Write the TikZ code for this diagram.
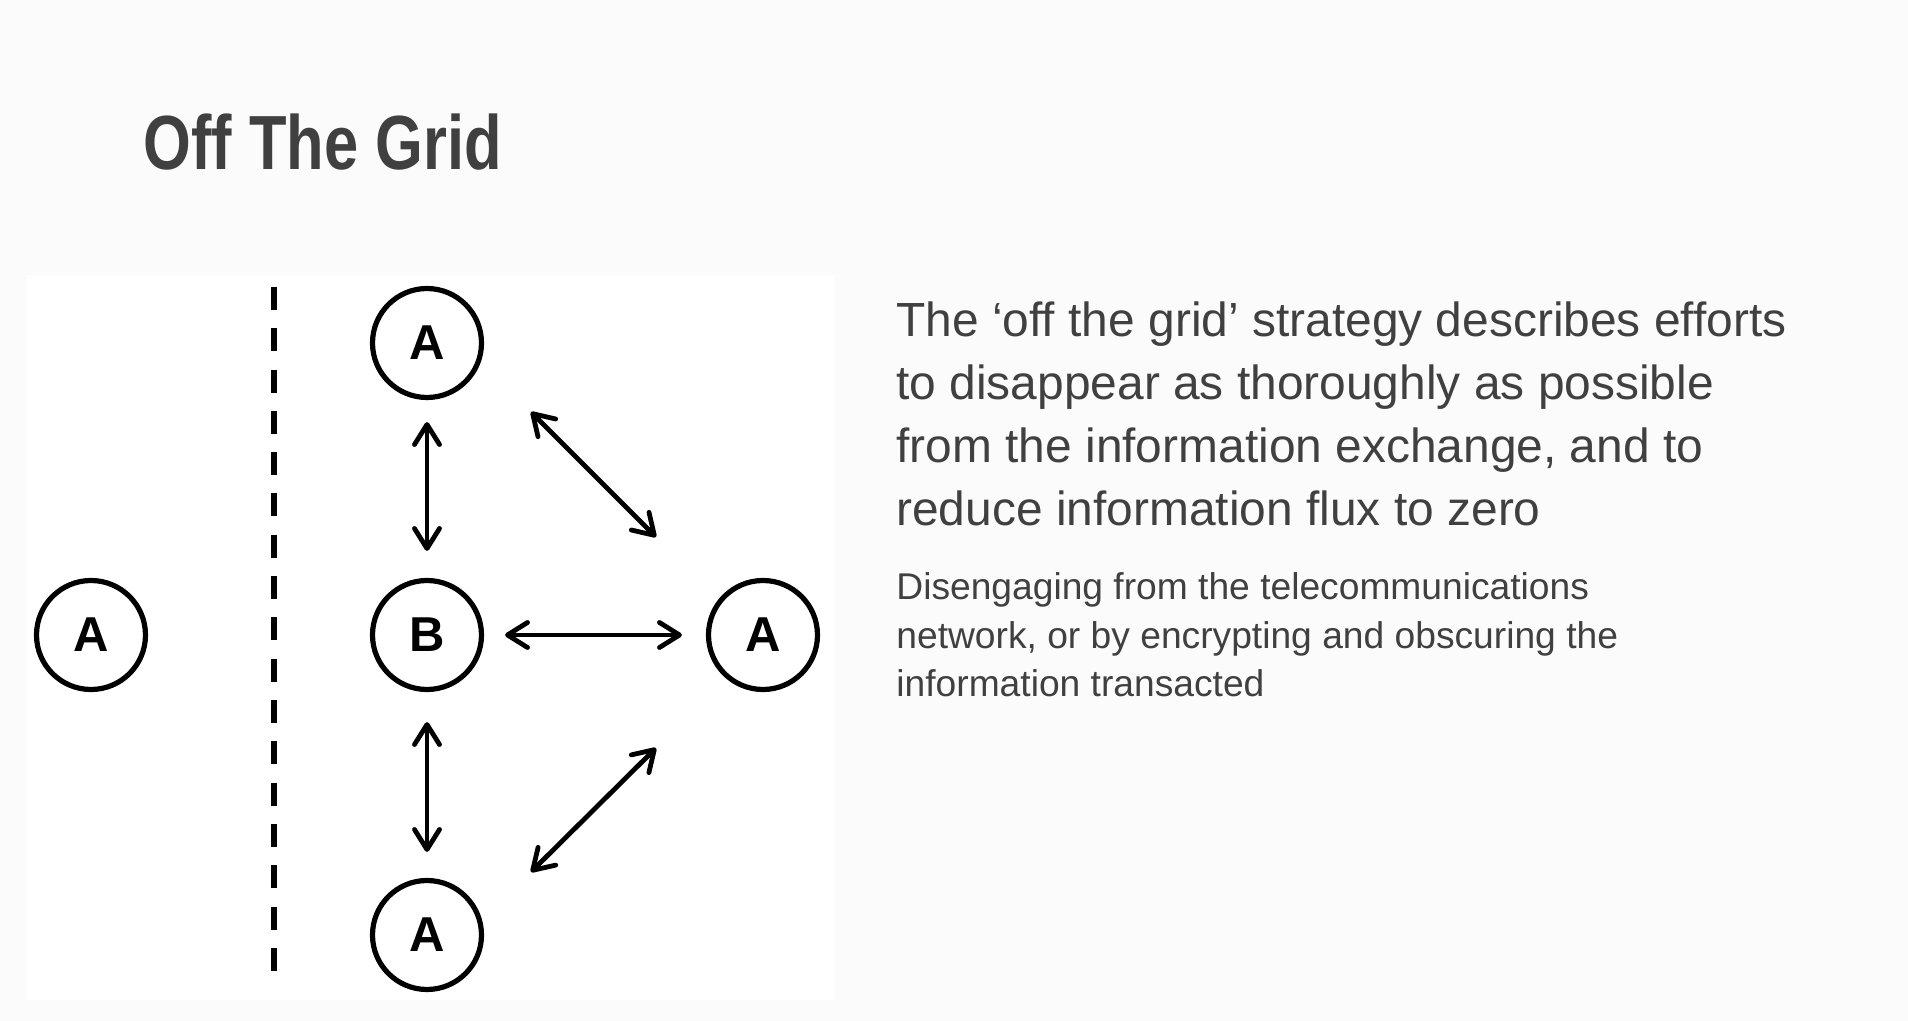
\documentclass[tikz,border=0pt]{standalone}
\usepackage{fontspec}
\setmainfont{Liberation Sans}
\newfontfamily\titlefont{Liberation Sans}[FakeStretch=0.80]
\usetikzlibrary{arrows.meta}
\definecolor{bgc}{RGB}{251,251,251}
\definecolor{txt}{RGB}{64,64,64}
\begin{document}
\begin{tikzpicture}[x=0.5pt,y=-0.5pt,
  nodecirc/.style={circle, draw=black, line width=2.6pt, minimum size=54.5pt, inner sep=0pt,
    font=\bfseries\fontsize{24.5pt}{24.5pt}\selectfont},
  conn/.style={line width=2.4pt,
    {Straight Barb[length=10pt,width=12.5pt,round]}-{Straight Barb[length=10pt,width=12.5pt,round]}},
  dashline/.style={line width=3pt, dash pattern=on 11.5pt off 9.15pt},
  bigtxt/.style={anchor=base west, inner sep=0pt, text=txt, font=\fontsize{23.95pt}{28pt}\selectfont},
  smalltxt/.style={anchor=base west, inner sep=0pt, text=txt, font=\fontsize{18.6pt}{22pt}\selectfont}
]
\fill[bgc] (0,0) rectangle (1908,1021);
\useasboundingbox (0,0) rectangle (1908,1021);
\fill[white] (27,275) rectangle (835,1000);

% title
\node[anchor=base west, inner sep=0pt, text=txt,
  font=\titlefont\bfseries\fontsize{38.4pt}{40pt}\selectfont] (title) at (143,170) {Off The Grid};

% paragraph 1
\node[bigtxt] (p1) at (896,337) {The ‘off the grid’ strategy describes efforts};
\node[bigtxt] (p2) at (896,400) {to disappear as thoroughly as possible};
\node[bigtxt] (p3) at (896,463) {from the information exchange, and to};
\node[bigtxt] (p4) at (896,526) {reduce information flux to zero};

% paragraph 2
\node[smalltxt] (q1) at (896,600) {Disengaging from the telecommunications};
\node[smalltxt] (q2) at (896,649) {network, or by encrypting and obscuring the};
\node[smalltxt] (q3) at (896,697) {information transacted};

% dashed separator
\coordinate (dtop) at (274,287);
\coordinate (dbot) at (274,971);
\draw[dashline] (dtop) -- (dbot);

% nodes
\node[nodecirc] (Aleft) at (91,635) {A};
\node[nodecirc] (Atop) at (427,343) {A};
\node[nodecirc] (B) at (427,635) {B};
\node[nodecirc] (Aright) at (763,635) {A};
\node[nodecirc] (Abot) at (427,935) {A};

% connectors
\draw[conn, shorten <=11pt, shorten >=13.5pt] (Atop) -- (B);
\draw[conn, shorten <=15pt, shorten >=13pt] (B) -- (Abot);
\draw[conn, shorten <=10.5pt, shorten >=12pt] (B) -- (Aright);

\coordinate (d1a) at (531,412);
\coordinate (d1b) at (656,537);
\coordinate (d2a) at (656,748);
\coordinate (d2b) at (531,872);
\draw[conn] (d1a) -- (d1b);
\draw[conn] (d2a) -- (d2b);
\end{tikzpicture}
\end{document}
